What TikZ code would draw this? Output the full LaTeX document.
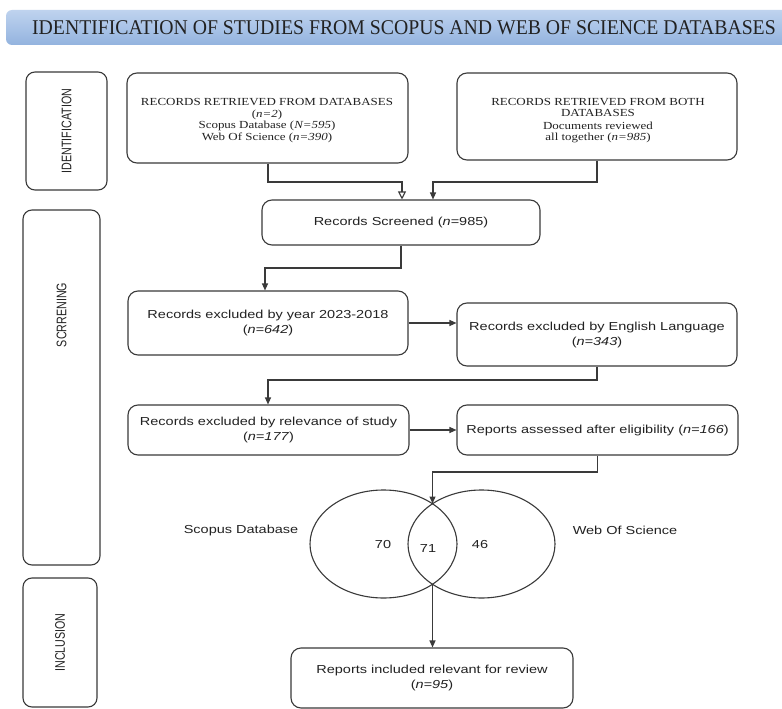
\documentclass[tikz,border=0pt]{standalone}
\usepackage{fontspec}
\setmainfont{Liberation Serif}
\newfontfamily\titleserif[FakeStretch=0.94]{Liberation Serif}
\newfontfamily\boxserif[FakeStretch=1.2]{Liberation Serif}
\newfontfamily\boxsans[FakeStretch=1.25]{Liberation Sans}
\newfontfamily\sidesans{Liberation Sans}
\usetikzlibrary{arrows.meta,shapes.geometric}

\definecolor{inkline}{HTML}{3A3A3A}
\definecolor{inktext}{HTML}{222222}
\definecolor{bandtop}{HTML}{BFD3EE}
\definecolor{bandmid}{HTML}{A9C3E7}
\definecolor{bandbot}{HTML}{93B3DE}

\tikzset{
  flowbox/.style={draw=inkline, line width=1.1pt, rounded corners=10pt,
    inner sep=0pt, align=center, text=inktext},
  sansbox/.style={flowbox, font=\boxsans\fontsize{11.6}{15}\selectfont},
  serifframe/.style={flowbox},
  seriftext/.style={align=center, inner sep=0pt, text=inktext,
    font=\boxserif\fontsize{10.8}{11.6}\selectfont},
  phasebox/.style={draw=inkline, line width=1.1pt, rounded corners=9pt, inner sep=0pt},
  phaselabel/.style={rotate=90, text=inktext, font=\sidesans\fontsize{10.7}{12}\selectfont},
  link/.style={draw=inkline, line width=1.1pt},
  tip/.style={link, -{Triangle[length=7pt,width=6pt]}},
  opentip/.style={link, -{Triangle[open,length=8pt,width=8pt]}},
  venn/.style={draw=inkline, line width=1.1pt, ellipse, inner sep=0pt,
    minimum width=147pt, minimum height=108pt},
  vennlabel/.style={text=inktext, font=\boxsans\fontsize{11.6}{14}\selectfont}
}

\begin{document}
\begin{tikzpicture}[x=1pt, y=-1pt]
\useasboundingbox (0,0) rectangle (782,709);
\fill[white] (0,0) rectangle (782,709);

% title band
\shade[top color=bandtop, bottom color=bandbot, middle color=bandmid, rounded corners=6pt]
  (6,10) rectangle (792,45);
\node[text=inktext, font=\titleserif\fontsize{21}{23}\selectfont] (title) at (404,28)
  {IDENTIFICATION OF STUDIES FROM SCOPUS AND WEB OF SCIENCE DATABASES};

% phase columns
\node[phasebox, minimum width=81pt, minimum height=118pt] (idbox) at (66.5,131) {};
\node[phaselabel] at (idbox.center) {\scalebox{1}[1.3]{IDENTIFICATION}};
\node[phasebox, minimum width=77pt, minimum height=355pt] (scrbox) at (61.5,387.5) {};
\node[phaselabel] at (61.5,315) {\scalebox{1}[1.3]{SCRRENING}};
\node[phasebox, minimum width=74pt, minimum height=129pt] (incbox) at (60,642.5) {};
\node[phaselabel] at (incbox.center) {\scalebox{1}[1.3]{INCLUSION}};

% identification boxes
\node[serifframe, minimum width=281pt, minimum height=90pt] (dbs) at (267.5,118) {};
\node[seriftext] (dbstext) at (267,120.5)
  {RECORDS RETRIEVED FROM DATABASES\\
   (\textit{n=2})\\
   Scopus Database (\textit{N=595})\\
   Web Of Science (\textit{n=390})};
\node[serifframe, minimum width=280pt, minimum height=87pt] (both) at (597,116.5) {};
\node[seriftext] (bothtext) at (598,120.5)
  {RECORDS RETRIEVED FROM BOTH\\
   DATABASES\\[1pt]
   Documents reviewed\\
   all together (\textit{n=985})};

% screening boxes
\node[sansbox, minimum width=278pt, minimum height=45pt] (screened) at (401,222.5)
  {Records Screened (\textit{n}=985)};
\node[sansbox, minimum width=280pt, minimum height=64pt] (year) at (268,323)
  {Records excluded by year 2023-2018\\(\textit{n=642})};
\node[sansbox, minimum width=280pt, minimum height=63pt] (lang) at (597,334.5)
  {Records excluded by English Language\\(\textit{n=343})};
\node[sansbox, minimum width=281pt, minimum height=50pt] (relev) at (268.5,430)
  {Records excluded by relevance of study\\(\textit{n=177})};
\node[sansbox, minimum width=281pt, minimum height=50pt] (elig) at (597.5,430)
  {Reports assessed after eligibility (\textit{n=166})};

% overlap of the two databases
\node[venn] (scopus) at (383.5,544) {};
\node[venn] (wos) at (481.5,544) {};
\coordinate (vtop) at (432.5,503.5);
\coordinate (vbot) at (432.5,584.5);
\node[vennlabel] (n70) at (383,545) {70};
\node[vennlabel] (n71) at (428,549) {71};
\node[vennlabel] (n46) at (480,545) {46};
\node[vennlabel] (scopusname) at (241,530) {Scopus Database};
\node[vennlabel] (wosname) at (625,530) {Web Of Science};

% inclusion box
\node[sansbox, minimum width=282pt, minimum height=60pt] (incl) at (432,678)
  {Reports included relevant for review\\(\textit{n=95})};

% connectors
\draw[opentip] (dbs.south -| 268,0) -- (268,182) -- (402,182) -- (screened.north -| 402,0);
\draw[tip] (both.south -| 597,0) -- (597,182) -- (433,182) -- (screened.north -| 433,0);
\draw[tip] (screened.south) -- (401,268) -- (265,268) -- (year.north -| 265,0);
\draw[tip] (year.east) -- (lang.west |- year.east);
\draw[tip] (lang.south) -- (597,380) -- (268,380) -- (relev.north -| 268,0);
\draw[tip] (relev.east) -- (elig.west);
\draw[tip] (elig.south) -- (597.5,472) -- (432.5,472) -- (vtop);
\draw[tip] (vbot) -- (incl.north -| vbot);
\end{tikzpicture}
\end{document}
